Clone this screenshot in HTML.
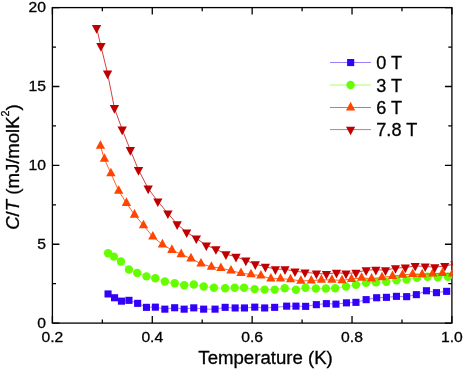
<!DOCTYPE html>
<html><head><meta charset="utf-8"><title>C/T vs Temperature</title>
<style>
html,body{margin:0;padding:0;background:#fff;}
body{width:463px;height:370px;overflow:hidden;}
svg{display:block;will-change:transform;}
text{font-family:"Liberation Sans",sans-serif;fill:#000;stroke:#000;stroke-width:0.3px;}
</style></head><body>
<svg width="463" height="370" viewBox="0 0 463 370">
<rect width="463" height="370" fill="#fff"/>
<defs><clipPath id="cp"><rect x="52.4" y="7.6" width="400.2" height="315.5"/></clipPath></defs>
<rect x="52.4" y="7.6" width="399.5" height="315.5" fill="none" stroke="#000" stroke-width="1.3"/>
<path d="M52.40 323.10V316.10M52.40 7.60V14.60" stroke="#000" stroke-width="1.3"/>
<path d="M102.34 323.10V319.50M102.34 7.60V11.20" stroke="#000" stroke-width="1.3"/>
<path d="M152.28 323.10V316.10M152.28 7.60V14.60" stroke="#000" stroke-width="1.3"/>
<path d="M202.21 323.10V319.50M202.21 7.60V11.20" stroke="#000" stroke-width="1.3"/>
<path d="M252.15 323.10V316.10M252.15 7.60V14.60" stroke="#000" stroke-width="1.3"/>
<path d="M302.09 323.10V319.50M302.09 7.60V11.20" stroke="#000" stroke-width="1.3"/>
<path d="M352.03 323.10V316.10M352.03 7.60V14.60" stroke="#000" stroke-width="1.3"/>
<path d="M401.96 323.10V319.50M401.96 7.60V11.20" stroke="#000" stroke-width="1.3"/>
<path d="M451.90 323.10V316.10M451.90 7.60V14.60" stroke="#000" stroke-width="1.3"/>
<path d="M52.40 323.10H59.40M451.90 323.10H444.90" stroke="#000" stroke-width="1.3"/>
<path d="M52.40 283.66H56.00M451.90 283.66H448.30" stroke="#000" stroke-width="1.3"/>
<path d="M52.40 244.23H59.40M451.90 244.23H444.90" stroke="#000" stroke-width="1.3"/>
<path d="M52.40 204.79H56.00M451.90 204.79H448.30" stroke="#000" stroke-width="1.3"/>
<path d="M52.40 165.35H59.40M451.90 165.35H444.90" stroke="#000" stroke-width="1.3"/>
<path d="M52.40 125.91H56.00M451.90 125.91H448.30" stroke="#000" stroke-width="1.3"/>
<path d="M52.40 86.48H59.40M451.90 86.48H444.90" stroke="#000" stroke-width="1.3"/>
<path d="M52.40 47.04H56.00M451.90 47.04H448.30" stroke="#000" stroke-width="1.3"/>
<path d="M52.40 7.60H59.40M451.90 7.60H444.90" stroke="#000" stroke-width="1.3"/>
<g clip-path="url(#cp)">
<polyline fill="none" stroke="#3300fa" stroke-width="1.0" stroke-opacity="0.5" points="108.1,294.0 114.6,297.8 121.4,301.1 128.9,300.3 137.7,303.3 146.5,307.3 155.3,307.1 164.9,309.1 174.7,307.8 184.2,309.1 193.8,307.9 203.7,309.1 215.1,309.2 225.2,307.4 235.2,308.0 244.5,308.0 254.8,307.2 264.6,308.0 274.7,307.4 286.7,306.2 296.0,306.1 305.6,306.4 316.4,304.6 326.4,303.6 336.0,304.1 346.5,302.9 356.0,302.4 366.1,299.6 376.7,297.8 386.5,297.3 396.5,296.4 406.6,296.6 416.4,294.6 426.5,290.8 436.5,292.6 446.6,291.3"/>
<rect x="104.5" y="290.4" width="7.1" height="7.1" fill="#3300fa"/>
<rect x="111.0" y="294.2" width="7.1" height="7.1" fill="#3300fa"/>
<rect x="117.9" y="297.6" width="7.1" height="7.1" fill="#3300fa"/>
<rect x="125.4" y="296.8" width="7.1" height="7.1" fill="#3300fa"/>
<rect x="134.1" y="299.8" width="7.1" height="7.1" fill="#3300fa"/>
<rect x="142.9" y="303.8" width="7.1" height="7.1" fill="#3300fa"/>
<rect x="151.8" y="303.6" width="7.1" height="7.1" fill="#3300fa"/>
<rect x="161.3" y="305.6" width="7.1" height="7.1" fill="#3300fa"/>
<rect x="171.1" y="304.2" width="7.1" height="7.1" fill="#3300fa"/>
<rect x="180.6" y="305.6" width="7.1" height="7.1" fill="#3300fa"/>
<rect x="190.2" y="304.3" width="7.1" height="7.1" fill="#3300fa"/>
<rect x="200.1" y="305.6" width="7.1" height="7.1" fill="#3300fa"/>
<rect x="211.5" y="305.6" width="7.1" height="7.1" fill="#3300fa"/>
<rect x="221.6" y="303.8" width="7.1" height="7.1" fill="#3300fa"/>
<rect x="231.6" y="304.4" width="7.1" height="7.1" fill="#3300fa"/>
<rect x="240.9" y="304.4" width="7.1" height="7.1" fill="#3300fa"/>
<rect x="251.2" y="303.6" width="7.1" height="7.1" fill="#3300fa"/>
<rect x="261.1" y="304.4" width="7.1" height="7.1" fill="#3300fa"/>
<rect x="271.1" y="303.8" width="7.1" height="7.1" fill="#3300fa"/>
<rect x="283.1" y="302.6" width="7.1" height="7.1" fill="#3300fa"/>
<rect x="292.4" y="302.6" width="7.1" height="7.1" fill="#3300fa"/>
<rect x="302.1" y="302.8" width="7.1" height="7.1" fill="#3300fa"/>
<rect x="312.8" y="301.1" width="7.1" height="7.1" fill="#3300fa"/>
<rect x="322.8" y="300.1" width="7.1" height="7.1" fill="#3300fa"/>
<rect x="332.4" y="300.6" width="7.1" height="7.1" fill="#3300fa"/>
<rect x="342.9" y="299.3" width="7.1" height="7.1" fill="#3300fa"/>
<rect x="352.4" y="298.8" width="7.1" height="7.1" fill="#3300fa"/>
<rect x="362.6" y="296.1" width="7.1" height="7.1" fill="#3300fa"/>
<rect x="373.1" y="294.2" width="7.1" height="7.1" fill="#3300fa"/>
<rect x="382.9" y="293.8" width="7.1" height="7.1" fill="#3300fa"/>
<rect x="392.9" y="292.8" width="7.1" height="7.1" fill="#3300fa"/>
<rect x="403.1" y="293.1" width="7.1" height="7.1" fill="#3300fa"/>
<rect x="412.8" y="291.1" width="7.1" height="7.1" fill="#3300fa"/>
<rect x="422.9" y="287.2" width="7.1" height="7.1" fill="#3300fa"/>
<rect x="432.9" y="289.1" width="7.1" height="7.1" fill="#3300fa"/>
<rect x="443.1" y="287.8" width="7.1" height="7.1" fill="#3300fa"/>
<polyline fill="none" stroke="#66ff00" stroke-width="1.0" stroke-opacity="0.6" points="108.1,253.2 113.9,256.6 120.9,261.5 128.9,269.5 137.2,273.0 146.5,276.4 155.3,278.2 164.9,281.5 174.7,283.2 184.2,285.2 193.8,284.5 203.7,286.5 213.9,287.8 225.2,288.3 234.7,287.8 244.0,287.8 254.6,289.1 264.6,289.6 274.7,289.6 284.7,288.3 296.0,289.7 305.5,287.8 315.9,288.5 325.9,288.5 335.2,288.3 346.0,286.5 356.0,284.8 366.1,282.8 375.9,282.3 386.2,281.8 396.5,280.3 406.6,279.6 417.0,277.8 427.5,276.7 437.8,277.2 448.0,276.7"/>
<circle cx="108.1" cy="253.2" r="4.2" fill="#66ff00"/>
<circle cx="113.9" cy="256.6" r="4.2" fill="#66ff00"/>
<circle cx="120.9" cy="261.5" r="4.2" fill="#66ff00"/>
<circle cx="128.9" cy="269.5" r="4.2" fill="#66ff00"/>
<circle cx="137.2" cy="273.0" r="4.2" fill="#66ff00"/>
<circle cx="146.5" cy="276.4" r="4.2" fill="#66ff00"/>
<circle cx="155.3" cy="278.2" r="4.2" fill="#66ff00"/>
<circle cx="164.9" cy="281.5" r="4.2" fill="#66ff00"/>
<circle cx="174.7" cy="283.2" r="4.2" fill="#66ff00"/>
<circle cx="184.2" cy="285.2" r="4.2" fill="#66ff00"/>
<circle cx="193.8" cy="284.5" r="4.2" fill="#66ff00"/>
<circle cx="203.7" cy="286.5" r="4.2" fill="#66ff00"/>
<circle cx="213.9" cy="287.8" r="4.2" fill="#66ff00"/>
<circle cx="225.2" cy="288.3" r="4.2" fill="#66ff00"/>
<circle cx="234.7" cy="287.8" r="4.2" fill="#66ff00"/>
<circle cx="244.0" cy="287.8" r="4.2" fill="#66ff00"/>
<circle cx="254.6" cy="289.1" r="4.2" fill="#66ff00"/>
<circle cx="264.6" cy="289.6" r="4.2" fill="#66ff00"/>
<circle cx="274.7" cy="289.6" r="4.2" fill="#66ff00"/>
<circle cx="284.7" cy="288.3" r="4.2" fill="#66ff00"/>
<circle cx="296.0" cy="289.7" r="4.2" fill="#66ff00"/>
<circle cx="305.5" cy="287.8" r="4.2" fill="#66ff00"/>
<circle cx="315.9" cy="288.5" r="4.2" fill="#66ff00"/>
<circle cx="325.9" cy="288.5" r="4.2" fill="#66ff00"/>
<circle cx="335.2" cy="288.3" r="4.2" fill="#66ff00"/>
<circle cx="346.0" cy="286.5" r="4.2" fill="#66ff00"/>
<circle cx="356.0" cy="284.8" r="4.2" fill="#66ff00"/>
<circle cx="366.1" cy="282.8" r="4.2" fill="#66ff00"/>
<circle cx="375.9" cy="282.3" r="4.2" fill="#66ff00"/>
<circle cx="386.2" cy="281.8" r="4.2" fill="#66ff00"/>
<circle cx="396.5" cy="280.3" r="4.2" fill="#66ff00"/>
<circle cx="406.6" cy="279.6" r="4.2" fill="#66ff00"/>
<circle cx="417.0" cy="277.8" r="4.2" fill="#66ff00"/>
<circle cx="427.5" cy="276.7" r="4.2" fill="#66ff00"/>
<circle cx="437.8" cy="277.2" r="4.2" fill="#66ff00"/>
<circle cx="448.0" cy="276.7" r="4.2" fill="#66ff00"/>
<polyline fill="none" stroke="#ff4500" stroke-width="1.0" stroke-opacity="0.85" points="100.4,145.9 104.4,158.9 110.9,173.4 118.7,190.9 126.4,203.0 134.5,214.8 143.5,225.4 152.8,236.7 162.4,244.5 171.9,250.0 181.2,254.3 191.0,258.5 201.0,263.7 211.4,266.9 220.9,268.1 231.0,270.6 241.0,273.2 251.0,274.4 260.9,275.7 270.9,278.7 280.5,278.7 290.5,279.4 300.9,280.9 311.3,280.6 321.4,279.9 331.9,279.9 342.0,280.4 351.5,279.1 361.6,277.9 371.6,278.6 382.0,277.4 392.5,276.1 402.5,274.9 412.7,274.1 422.2,274.4 432.7,273.6 442.4,273.2 452.5,273.6"/>
<path d="M100.4 140.2L105.1 148.8L95.8 148.8Z" fill="#ff4500"/>
<path d="M104.4 153.2L109.1 161.8L99.8 161.8Z" fill="#ff4500"/>
<path d="M110.9 167.7L115.6 176.3L106.2 176.3Z" fill="#ff4500"/>
<path d="M118.7 185.2L123.4 193.8L114.0 193.8Z" fill="#ff4500"/>
<path d="M126.4 197.3L131.1 205.9L121.8 205.9Z" fill="#ff4500"/>
<path d="M134.5 209.1L139.2 217.7L129.8 217.7Z" fill="#ff4500"/>
<path d="M143.5 219.7L148.2 228.3L138.8 228.3Z" fill="#ff4500"/>
<path d="M152.8 231.0L157.5 239.6L148.2 239.6Z" fill="#ff4500"/>
<path d="M162.4 238.8L167.1 247.4L157.8 247.4Z" fill="#ff4500"/>
<path d="M171.9 244.3L176.6 252.9L167.2 252.9Z" fill="#ff4500"/>
<path d="M181.2 248.6L185.8 257.2L176.5 257.2Z" fill="#ff4500"/>
<path d="M191.0 252.8L195.7 261.4L186.3 261.4Z" fill="#ff4500"/>
<path d="M201.0 258.0L205.7 266.6L196.3 266.6Z" fill="#ff4500"/>
<path d="M211.4 261.2L216.1 269.8L206.8 269.8Z" fill="#ff4500"/>
<path d="M220.9 262.4L225.6 271.0L216.2 271.0Z" fill="#ff4500"/>
<path d="M231.0 264.9L235.7 273.5L226.3 273.5Z" fill="#ff4500"/>
<path d="M241.0 267.5L245.7 276.1L236.3 276.1Z" fill="#ff4500"/>
<path d="M251.0 268.7L255.7 277.3L246.3 277.3Z" fill="#ff4500"/>
<path d="M260.9 270.0L265.5 278.6L256.2 278.6Z" fill="#ff4500"/>
<path d="M270.9 273.0L275.5 281.6L266.2 281.6Z" fill="#ff4500"/>
<path d="M280.5 273.0L285.1 281.6L275.9 281.6Z" fill="#ff4500"/>
<path d="M290.5 273.7L295.1 282.3L285.9 282.3Z" fill="#ff4500"/>
<path d="M300.9 275.2L305.5 283.8L296.2 283.8Z" fill="#ff4500"/>
<path d="M311.3 274.9L315.9 283.5L306.7 283.5Z" fill="#ff4500"/>
<path d="M321.4 274.2L326.0 282.8L316.8 282.8Z" fill="#ff4500"/>
<path d="M331.9 274.2L336.5 282.8L327.2 282.8Z" fill="#ff4500"/>
<path d="M342.0 274.7L346.6 283.3L337.4 283.3Z" fill="#ff4500"/>
<path d="M351.5 273.4L356.1 282.0L346.9 282.0Z" fill="#ff4500"/>
<path d="M361.6 272.2L366.2 280.8L357.0 280.8Z" fill="#ff4500"/>
<path d="M371.6 272.9L376.2 281.5L367.0 281.5Z" fill="#ff4500"/>
<path d="M382.0 271.7L386.6 280.3L377.4 280.3Z" fill="#ff4500"/>
<path d="M392.5 270.4L397.1 279.0L387.9 279.0Z" fill="#ff4500"/>
<path d="M402.5 269.2L407.1 277.8L397.9 277.8Z" fill="#ff4500"/>
<path d="M412.7 268.4L417.3 277.0L408.1 277.0Z" fill="#ff4500"/>
<path d="M422.2 268.7L426.8 277.3L417.6 277.3Z" fill="#ff4500"/>
<path d="M432.7 267.9L437.3 276.5L428.1 276.5Z" fill="#ff4500"/>
<path d="M442.4 267.5L447.0 276.1L437.8 276.1Z" fill="#ff4500"/>
<path d="M452.5 267.9L457.1 276.5L447.9 276.5Z" fill="#ff4500"/>
<polyline fill="none" stroke="#c00000" stroke-width="1.0" stroke-opacity="0.75" points="96.6,28.0 100.9,46.0 107.6,73.5 114.4,108.0 122.2,129.5 130.3,150.0 138.5,170.0 148.2,188.5 157.8,201.4 167.9,213.4 177.2,224.2 186.7,232.3 196.3,238.3 206.3,245.4 215.9,249.1 225.9,254.2 236.0,256.7 245.8,260.5 255.3,264.2 265.4,266.7 275.4,269.2 285.0,269.2 295.0,271.3 305.0,272.3 316.4,273.5 326.4,274.0 336.5,272.7 346.0,273.5 356.0,272.7 366.1,270.2 375.9,269.7 385.5,270.2 395.5,268.1 405.3,267.5 415.2,265.9 425.2,266.4 434.8,267.2 444.8,265.9 454.8,264.1"/>
<path d="M96.6 33.7L101.2 25.1L91.9 25.1Z" fill="#c00000"/>
<path d="M100.9 51.7L105.6 43.1L96.2 43.1Z" fill="#c00000"/>
<path d="M107.6 79.2L112.2 70.6L102.9 70.6Z" fill="#c00000"/>
<path d="M114.4 113.7L119.1 105.1L109.8 105.1Z" fill="#c00000"/>
<path d="M122.2 135.2L126.9 126.6L117.5 126.6Z" fill="#c00000"/>
<path d="M130.3 155.7L135.0 147.1L125.7 147.1Z" fill="#c00000"/>
<path d="M138.5 175.7L143.2 167.1L133.8 167.1Z" fill="#c00000"/>
<path d="M148.2 194.2L152.8 185.6L143.5 185.6Z" fill="#c00000"/>
<path d="M157.8 207.1L162.5 198.5L153.2 198.5Z" fill="#c00000"/>
<path d="M167.9 219.1L172.6 210.5L163.2 210.5Z" fill="#c00000"/>
<path d="M177.2 229.9L181.8 221.3L172.5 221.3Z" fill="#c00000"/>
<path d="M186.7 238.0L191.3 229.4L182.0 229.4Z" fill="#c00000"/>
<path d="M196.3 244.0L201.0 235.4L191.7 235.4Z" fill="#c00000"/>
<path d="M206.3 251.1L211.0 242.5L201.7 242.5Z" fill="#c00000"/>
<path d="M215.9 254.8L220.6 246.2L211.2 246.2Z" fill="#c00000"/>
<path d="M225.9 259.9L230.6 251.3L221.2 251.3Z" fill="#c00000"/>
<path d="M236.0 262.4L240.7 253.8L231.3 253.8Z" fill="#c00000"/>
<path d="M245.8 266.2L250.5 257.6L241.2 257.6Z" fill="#c00000"/>
<path d="M255.3 269.9L259.9 261.3L250.7 261.3Z" fill="#c00000"/>
<path d="M265.4 272.4L270.0 263.8L260.8 263.8Z" fill="#c00000"/>
<path d="M275.4 274.9L280.0 266.3L270.8 266.3Z" fill="#c00000"/>
<path d="M285.0 274.9L289.6 266.3L280.4 266.3Z" fill="#c00000"/>
<path d="M295.0 277.0L299.6 268.4L290.4 268.4Z" fill="#c00000"/>
<path d="M305.0 278.0L309.6 269.4L300.4 269.4Z" fill="#c00000"/>
<path d="M316.4 279.2L321.0 270.6L311.8 270.6Z" fill="#c00000"/>
<path d="M326.4 279.7L331.0 271.1L321.8 271.1Z" fill="#c00000"/>
<path d="M336.5 278.4L341.1 269.8L331.9 269.8Z" fill="#c00000"/>
<path d="M346.0 279.2L350.6 270.6L341.4 270.6Z" fill="#c00000"/>
<path d="M356.0 278.4L360.6 269.8L351.4 269.8Z" fill="#c00000"/>
<path d="M366.1 275.9L370.8 267.3L361.5 267.3Z" fill="#c00000"/>
<path d="M375.9 275.4L380.5 266.8L371.2 266.8Z" fill="#c00000"/>
<path d="M385.5 275.9L390.1 267.3L380.9 267.3Z" fill="#c00000"/>
<path d="M395.5 273.8L400.1 265.2L390.9 265.2Z" fill="#c00000"/>
<path d="M405.3 273.2L409.9 264.6L400.7 264.6Z" fill="#c00000"/>
<path d="M415.2 271.6L419.8 263.0L410.6 263.0Z" fill="#c00000"/>
<path d="M425.2 272.1L429.8 263.5L420.6 263.5Z" fill="#c00000"/>
<path d="M434.8 272.9L439.4 264.3L430.2 264.3Z" fill="#c00000"/>
<path d="M444.8 271.6L449.4 263.0L440.2 263.0Z" fill="#c00000"/>
<path d="M454.8 269.8L459.4 261.2L450.2 261.2Z" fill="#c00000"/>
</g>
<text transform="translate(52.4,342.2) scale(1.02,1)" font-size="15.4" text-anchor="middle">0.2</text>
<text transform="translate(152.3,342.2) scale(1.02,1)" font-size="15.4" text-anchor="middle">0.4</text>
<text transform="translate(252.1,342.2) scale(1.02,1)" font-size="15.4" text-anchor="middle">0.6</text>
<text transform="translate(352.0,342.2) scale(1.02,1)" font-size="15.4" text-anchor="middle">0.8</text>
<text transform="translate(451.9,342.2) scale(1.02,1)" font-size="15.4" text-anchor="middle">1.0</text>
<text transform="translate(45.9,327.55) scale(1.02,1)" font-size="15.4" text-anchor="end">0</text>
<text transform="translate(45.9,248.68) scale(1.02,1)" font-size="15.4" text-anchor="end">5</text>
<text transform="translate(45.9,169.80) scale(1.02,1)" font-size="15.4" text-anchor="end">10</text>
<text transform="translate(45.9,90.93) scale(1.02,1)" font-size="15.4" text-anchor="end">15</text>
<text transform="translate(45.9,12.05) scale(1.02,1)" font-size="15.4" text-anchor="end">20</text>
<text transform="translate(265.55,364.4) scale(1.046,1)" font-size="17.8" text-anchor="middle">Temperature (K)</text>
<text transform="translate(18.9,167.0) rotate(-90) scale(1.02,1)" font-size="18.2" text-anchor="middle"><tspan font-style="italic">C</tspan>/<tspan font-style="italic">T</tspan> (mJ/molK<tspan font-size="10.6" dy="-10.4">2</tspan><tspan dy="10.4">)</tspan></text>
<path d="M330 62.5H371" stroke="#3300fa" stroke-width="1.0" stroke-opacity="0.5"/>
<rect x="347.1" y="59.0" width="7.1" height="7.1" fill="#3300fa"/>
<text x="376.3" y="69.1" font-size="18.1">0 T</text>
<path d="M330 85.0H371" stroke="#66ff00" stroke-width="1.0" stroke-opacity="0.55"/>
<circle cx="350.6" cy="85.0" r="4.2" fill="#66ff00"/>
<text x="376.3" y="91.6" font-size="18.1">3 T</text>
<path d="M330 107.5H371" stroke="#ff4500" stroke-width="1.0" stroke-opacity="0.8"/>
<path d="M350.6 101.8L355.2 110.4L346.0 110.4Z" fill="#ff4500"/>
<text x="376.3" y="114.1" font-size="18.1">6 T</text>
<path d="M330 129.6H371" stroke="#c00000" stroke-width="1.0" stroke-opacity="0.55"/>
<path d="M350.6 135.3L355.2 126.7L346.0 126.7Z" fill="#c00000"/>
<text x="376.3" y="136.2" font-size="18.1">7.8 T</text>
</svg>
</body></html>
